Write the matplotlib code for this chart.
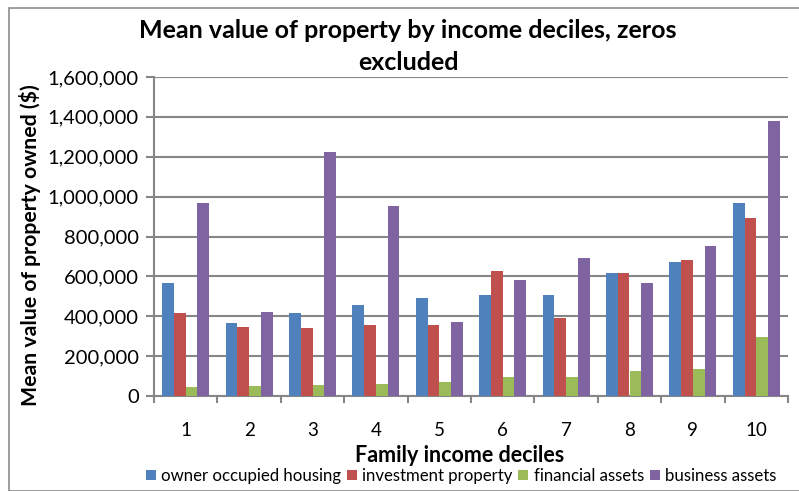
import matplotlib
matplotlib.use("Agg")
import matplotlib.pyplot as plt
from matplotlib.patches import Rectangle, Patch
from matplotlib.ticker import FuncFormatter
import numpy as np

plt.rcParams['font.family'] = ['Lato', 'DejaVu Sans']

categories = ['1', '2', '3', '4', '5', '6', '7', '8', '9', '10']
series_names = ['owner occupied housing', 'investment property', 'financial assets', 'business assets']
owner_housing = [568000, 364000, 414000, 456000, 491000, 506000, 506000, 615000, 673000, 969000]
investment_property = [414000, 347000, 339000, 356000, 356000, 625000, 389000, 615000, 681000, 894000]
financial_assets = [43000, 52000, 53000, 62000, 68000, 94000, 94000, 127000, 134000, 296000]
business_assets = [969000, 423000, 1223000, 952000, 372000, 581000, 690000, 565000, 752000, 1381000]
colors = ['#4F81BD', '#C0504D', '#9BBB59', '#8064A2']

W, H = 799, 491
fig = plt.figure(figsize=(W / 100, H / 100), dpi=100)
fig.patches.append(Rectangle((9 / W, 0), 1, 1 - 8 / H, transform=fig.transFigure,
                             fill=False, edgecolor='#8c8c8c', linewidth=1.2))

ax = fig.add_axes([154 / W, 95 / H, (788 - 154) / W, (396 - 77) / H])
x = np.arange(len(categories))
bw = 0.185
data = [owner_housing, investment_property, financial_assets, business_assets]
for i, (vals, c) in enumerate(zip(data, colors)):
    ax.bar(x + (i - 1.5) * bw, vals, width=bw, color=c, zorder=3, linewidth=0)

ax.set_xlim(-0.5, len(categories) - 0.5)
ax.set_ylim(0, 1600000)
ax.set_yticks(np.arange(0, 1600001, 200000))
ax.yaxis.set_major_formatter(FuncFormatter(lambda v, p: f"{int(v):,}"))
ax.grid(axis='y', color='#868686', linewidth=1.5, zorder=0)
ax.set_axisbelow(True)

ax.set_xticks(np.arange(-0.5, len(categories)), minor=False)
ax.set_xticklabels([])
ax.set_xticks(x, minor=True)
ax.set_xticklabels(categories, minor=True)
ax.tick_params(axis='x', which='minor', length=0, pad=19, labelsize=13.5)
ax.tick_params(axis='x', which='major', length=5, width=1.5, color='#868686')
ax.tick_params(axis='y', length=6, width=1.5, color='#868686', labelsize=14.5, pad=5)

for s in ['top', 'right']:
    ax.spines[s].set_visible(False)
for s in ['left', 'bottom']:
    ax.spines[s].set_color('#868686')
    ax.spines[s].set_linewidth(1.5)

fig.text(408 / W, 1 - 30 / H, 'Mean value of property by income deciles, zeros',
         ha='center', va='center', fontsize=18, fontweight='bold')
fig.text(408 / W, 1 - 62 / H, 'excluded',
         ha='center', va='center', fontsize=18, fontweight='bold')
fig.text(30 / W, 1 - 245 / H, 'Mean value of property owned ($)', rotation=90,
         ha='center', va='center', fontsize=15.3, fontweight='bold')
fig.text(460 / W, 1 - 455 / H, 'Family income deciles',
         ha='center', va='center', fontsize=15.5, fontweight='bold')

handles = [Patch(facecolor=c, edgecolor='none') for c in colors]
fig.legend(handles, series_names, loc='center left', bbox_to_anchor=(146 / W, 1 - 476 / H),
           ncol=4, frameon=False, fontsize=12.1, handlelength=0.6, handleheight=0.6,
           handletextpad=0.3, columnspacing=0.35, borderpad=0, borderaxespad=0)

fig.savefig('out.png', dpi=100)
